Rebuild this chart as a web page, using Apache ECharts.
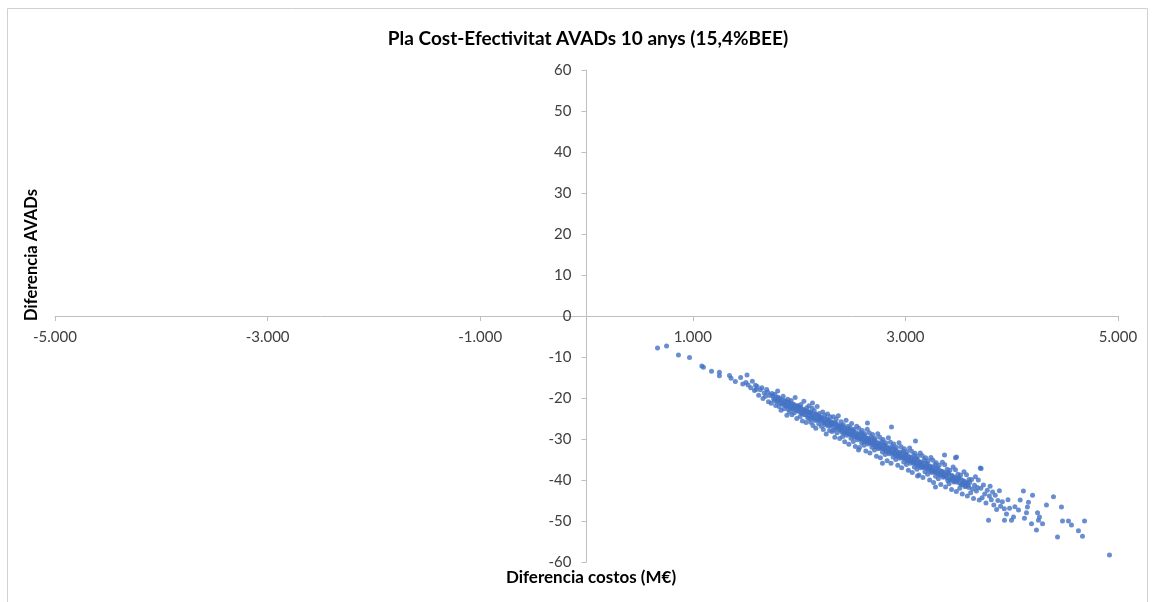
<!DOCTYPE html>
<html>
<head>
<meta charset="utf-8">
<script src="https://cdn.jsdelivr.net/npm/echarts@6/dist/echarts.min.js"></script>
<style>
html,body{margin:0;padding:0;background:#fff;}
#chart{width:1152px;height:602px;}
</style>
</head>
<body>
<div id="chart"></div>
<script>
var chartTitle = 'Pla Cost-Efectivitat AVADs 10 anys (15,4%BEE)';
var xAxisName = 'Diferencia costos (M€)';
var yAxisName = 'Diferencia AVADs';
var xTicks = [-5000, -3000, -1000, 1000, 3000, 5000];
var yTicks = [-60, -50, -40, -30, -20, -10, 0, 10, 20, 30, 40, 50, 60];

// [cost difference, AVAD difference]
var pointsStart = [
[668,-7.8],[753,-7.3],[865,-9.5],[969,-10.1],[1085,-12.2],[1100,-12.5],[1176,-13.5],[1250,-13.7],[1250,-14.6],[1345,-14.5],[1360,-15.2],[1400,-16.0],[1450,-15.0],[1470,-16.6],[1500,-16.2]
];
var pointsBand1 = [
[1510,-14.4],[1520,-16.8],[1545,-17.5],[1560,-15.9],[1580,-18.2],[1590,-16.9],[1595,-17.9],
[1605,-17.2],[1620,-19.3],[1635,-18.0],[1650,-17.5],[1660,-20.1],[1672,-18.8],[1685,-19.6],[1695,-17.9],
[1705,-18.6],[1712,-20.9],[1725,-19.4],[1738,-21.3],[1745,-18.9],[1760,-20.2],[1772,-19.1],[1780,-21.8],[1792,-20.6],[1798,-18.3],
[1803,-19.8],[1812,-22.1],[1820,-20.5],[1830,-23.0],[1841,-21.4],[1850,-19.6],[1858,-22.6],[1865,-20.9],[1877,-21.9],[1885,-24.2],[1893,-20.3],[1898,-22.8],
[1902,-21.0],[1910,-23.4],[1918,-22.0],[1925,-20.6],[1933,-24.1],[1940,-22.7],[1948,-21.5],[1955,-23.6],[1963,-19.9],[1970,-22.4],[1978,-25.0],[1985,-21.8],[1992,-23.1],[1998,-22.5]
];
var pointsBand2 = [
[2004,-22.2],[2010,-24.5],[2017,-21.6],[2024,-23.8],[2031,-25.6],[2038,-22.9],[2045,-20.8],[2052,-24.1],[2058,-23.2],[2066,-26.0],[2072,-22.4],[2080,-24.8],[2087,-23.5],[2093,-21.9],[2099,-25.1],
[2103,-23.6],[2110,-25.9],[2116,-24.2],[2123,-22.5],[2126,-21.2],[2130,-26.7],[2136,-24.9],[2143,-23.1],[2150,-25.5],[2157,-27.4],[2163,-24.0],[2170,-22.1],[2177,-25.2],[2184,-26.3],[2190,-23.8],[2197,-24.7],
[2203,-24.8],[2209,-26.9],[2215,-25.3],[2222,-23.4],[2228,-27.7],[2235,-25.9],[2241,-24.2],[2248,-26.5],[2255,-28.8],[2261,-25.1],[2268,-23.9],[2274,-26.8],[2281,-25.6],[2287,-27.9],[2294,-24.6],[2299,-26.2],
[2304,-25.9],[2310,-28.2],[2317,-26.4],[2323,-24.6],[2330,-27.8],[2336,-29.6],[2343,-26.1],[2349,-25.2],[2356,-28.5],[2362,-27.1],[2369,-24.3],[2375,-26.9],[2382,-29.9],[2388,-27.6],[2395,-25.8],[2399,-28.3],
[2404,-27.0],[2410,-29.4],[2416,-26.5],[2423,-28.6],[2429,-30.7],[2436,-27.8],[2442,-25.4],[2449,-29.1],[2455,-28.2],[2462,-26.9],[2468,-31.3],[2475,-28.7],[2481,-27.3],[2488,-29.8],[2494,-26.2],[2499,-28.9]
];
var pointsBand3 = [
[2504,-28.0],[2510,-30.6],[2516,-27.6],[2523,-29.5],[2529,-31.8],[2536,-28.8],[2542,-26.9],[2549,-30.2],[2555,-29.3],[2559,-32.7],[2562,-27.4],[2568,-32.1],[2575,-29.9],[2581,-28.4],[2588,-30.9],[2594,-27.9],[2599,-30.0],
[2604,-29.0],[2610,-31.5],[2616,-28.7],[2622,-30.6],[2628,-32.9],[2635,-29.9],[2641,-27.6],[2643,-26.1],[2647,-31.2],[2654,-30.4],[2660,-28.5],[2666,-33.4],[2673,-30.9],[2679,-29.5],[2685,-32.0],[2691,-28.9],[2697,-31.1],
[2703,-30.2],[2709,-32.7],[2715,-29.8],[2721,-31.9],[2728,-34.2],[2734,-31.0],[2740,-28.7],[2746,-32.4],[2753,-31.5],[2759,-29.6],[2765,-34.6],[2771,-32.1],[2778,-30.6],[2784,-33.2],[2784,-35.9],[2790,-30.1],[2796,-32.3],
[2803,-31.4],[2809,-33.8],[2815,-30.9],[2821,-33.0],[2828,-35.3],[2834,-32.2],[2840,-29.7],[2846,-33.6],[2853,-32.7],[2859,-30.8],[2865,-35.9],[2869,-27.1],[2871,-33.3],[2878,-31.8],[2884,-34.4],[2890,-31.2],[2896,-33.5],
[2903,-32.5],[2909,-35.0],[2915,-32.0],[2921,-34.1],[2928,-36.4],[2934,-33.4],[2940,-30.9],[2946,-34.7],[2953,-33.8],[2959,-31.9],[2965,-37.0],[2971,-34.4],[2978,-32.9],[2984,-35.6],[2990,-32.4],[2996,-34.6]
];
var pointsBand4 = [
[3003,-33.7],[3009,-36.2],[3015,-33.1],[3021,-35.3],[3028,-37.6],[3034,-34.5],[3040,-32.2],[3046,-35.9],[3053,-35.0],[3059,-33.0],[3065,-38.2],[3071,-35.6],[3078,-34.0],[3084,-36.8],[3090,-33.5],[3095,-30.5],[3096,-35.8],
[3103,-34.8],[3109,-37.4],[3114,-39.0],[3115,-34.2],[3121,-36.5],[3128,-38.8],[3134,-35.7],[3140,-33.4],[3146,-37.0],[3153,-36.2],[3159,-34.1],[3165,-39.4],[3171,-36.8],[3178,-35.1],[3184,-38.0],[3190,-34.6],[3196,-36.9],
[3203,-36.0],[3209,-38.6],[3215,-35.3],[3221,-37.6],[3228,-40.0],[3234,-36.8],[3240,-34.5],[3246,-38.2],[3253,-37.4],[3259,-35.2],[3265,-40.6],[3271,-37.9],[3278,-36.3],[3283,-41.7],[3284,-39.1],[3290,-35.8],[3296,-38.1],
[3303,-37.1],[3310,-39.7],[3318,-36.4],[3325,-38.8],[3333,-41.1],[3340,-37.9],[3348,-35.7],[3355,-39.3],[3363,-38.5],[3368,-33.9],[3370,-36.3],[3378,-41.7],[3385,-39.0],[3393,-37.4],[3399,-40.2],
[3404,-38.3],[3411,-40.9],[3419,-37.6],[3426,-39.9],[3434,-42.3],[3441,-39.0],[3449,-36.8],[3456,-40.5],[3464,-39.6],[3471,-37.5],[3471,-34.6],[3479,-42.8],[3481,-34.4],[3486,-40.1],[3494,-38.6]
];
var pointsBand5 = [
[3503,-39.5],[3511,-42.0],[3519,-38.8],[3527,-41.1],[3535,-43.4],[3543,-40.2],[3551,-38.0],[3559,-41.6],[3567,-40.8],[3575,-38.7],[3583,-43.9],[3591,-41.3],[3598,-39.9],
[3605,-40.6],[3614,-43.1],[3623,-39.9],[3632,-42.2],[3641,-44.5],[3650,-41.3],[3659,-39.2],[3668,-42.7],[3677,-41.8],[3686,-40.0],[3695,-44.9],
[3705,-37.1],[3712,-37.2],[3710,-42.0],[3722,-44.3],[3734,-41.2],[3746,-43.4],[3758,-45.6],[3770,-42.5],[3782,-49.8],[3790,-43.9],[3797,-41.5],
[3808,-44.8],[3820,-42.9],[3832,-46.1],[3845,-43.7],[3858,-47.2],[3870,-45.0],[3884,-42.6],[3895,-46.4],
[3912,-45.3],[3930,-47.0],[3932,-49.8],[3951,-48.3],[3965,-44.8],[3980,-46.9],[3998,-49.8]
];
var pointsCore = [
[1752,-19.4],[1768,-20.6],[1783,-19.9],[1797,-21.0],[1812,-20.1],[1826,-21.3],[1841,-20.4],[1856,-21.6],[1870,-20.7],[1885,-22.0],[1899,-21.1],[1914,-22.3],[1928,-21.4],[1943,-22.6],[1957,-21.8],[1972,-23.0],[1986,-22.1],
[2001,-23.3],[2015,-22.4],[2030,-23.6],[2044,-22.8],[2059,-24.0],[2073,-23.1],[2088,-24.3],[2102,-23.4],[2117,-24.7],[2131,-23.8],[2146,-25.0],[2160,-24.1],[2175,-25.3],[2189,-24.5],
[2204,-25.7],[2218,-24.8],[2233,-26.0],[2247,-25.1],[2262,-26.3],[2276,-25.5],[2291,-26.7],[2305,-25.8],[2320,-27.0],[2334,-26.1],[2349,-27.3],[2363,-26.5],[2378,-27.7],[2392,-26.8],
[2407,-28.0],[2421,-27.1],[2436,-28.4],[2450,-27.5],[2465,-28.7],[2479,-27.8],[2494,-29.0],[2508,-28.2],[2523,-29.4],[2537,-28.5],[2552,-29.7],[2566,-28.8],[2581,-30.0],[2595,-29.2],
[2610,-30.4],[2624,-29.5],[2639,-30.7],[2653,-29.8],[2668,-31.0],[2682,-30.2],[2697,-31.4],[2711,-30.5],[2726,-31.7],[2740,-30.9],[2755,-32.1],[2769,-31.2],[2784,-32.4],[2798,-31.5],
[2813,-32.7],[2827,-31.9],[2842,-33.1],[2856,-32.2],[2871,-33.4],[2885,-32.5],[2900,-33.7],[2914,-32.9],[2929,-34.1],[2943,-33.2],[2958,-34.4],[2972,-33.5],[2987,-34.7],
[3001,-33.9],[3016,-35.1],[3030,-34.2],[3045,-35.4],[3059,-34.5],[3074,-35.8],[3088,-34.9],[3103,-36.1],[3117,-35.2],[3132,-36.4],[3146,-35.6],[3161,-36.8],[3175,-35.9],[3190,-37.1],
[3204,-36.2],[3219,-37.4],[3233,-36.6],[3248,-37.8],[3262,-36.9],[3277,-38.1],[3291,-37.2],[3306,-38.4],[3320,-37.6],[3335,-38.8],[3349,-37.9],[3364,-39.1],[3378,-38.2],[3393,-39.5],
[3407,-38.6],[3422,-39.8],[3436,-38.9],[3451,-40.1],[3465,-39.3],[3480,-40.5],[3494,-39.6],[3509,-40.8],[3523,-39.9],[3538,-41.1],[3552,-40.3],[3567,-41.5],[3581,-40.6],[3596,-41.8]
];
var pointsTail = [
[4017,-49.0],[4030,-46.5],[4064,-47.3],[4080,-44.9],[4110,-42.7],[4120,-49.3],[4139,-48.0],[4148,-46.6],[4158,-45.4],
[4186,-50.7],[4196,-43.7],[4233,-52.2],[4243,-48.0],[4252,-49.8],[4261,-49.0],[4290,-50.7],[4327,-46.1],[4393,-44.1],
[4431,-53.9],[4468,-46.6],[4478,-50.0],[4534,-50.0],[4562,-51.0],[4628,-52.4],[4666,-53.7],[4685,-50.0],[4920,-58.3]
];

var allPoints = [].concat(pointsStart, pointsBand1, pointsBand2, pointsBand3, pointsBand4, pointsBand5, pointsCore, pointsTail);

var fontFam = 'Lato, "Open Sans", "Liberation Sans", sans-serif';
var chart = echarts.init(document.getElementById('chart'), null, {renderer: 'canvas'});

function fmtThousands(v) {
  var neg = v < 0;
  var s = String(Math.abs(v));
  s = s.replace(/\B(?=(\d{3})+(?!\d))/g, '.');
  return (neg ? '-' : '') + s;
}

// plot area geometry
var gLeft = 55, gRight = 34, gTop = 70, gBottom = 40;
var W = 1152, H = 602;
var xZeroPx = gLeft + (W - gLeft - gRight) * (0 - (-5000)) / 10000;
var yZeroPx = gTop + (H - gTop - gBottom) * (60 - 0) / 120;

chart.setOption({
  backgroundColor: '#ffffff',
  animation: false,
  title: {
    text: chartTitle,
    left: 583,
    top: 24,
    textAlign: 'center',
    textStyle: {fontFamily: fontFam, fontSize: 19, fontWeight: 'bold', color: '#000000'}
  },
  grid: {left: gLeft, right: gRight, top: gTop, bottom: gBottom, containLabel: false, outerBoundsMode: 'none'},
  xAxis: {
    type: 'value',
    min: -5000,
    max: 5000,
    interval: 2000,
    position: 'bottom',
    offset: -(H - gBottom - yZeroPx),
    splitLine: {show: false},
    axisLine: {onZero: false, lineStyle: {color: '#bfbfbf', width: 1}},
    axisTick: {show: true, length: 5, inside: false, lineStyle: {color: '#bfbfbf'}},
    axisLabel: {
      fontFamily: fontFam, fontSize: 15, color: '#404040', margin: 14,
      formatter: function (v) { return xTicks.indexOf(v) >= 0 ? fmtThousands(v) : ''; }
    }
  },
  yAxis: {
    type: 'value',
    min: -60,
    max: 60,
    interval: 10,
    position: 'left',
    offset: -(xZeroPx - gLeft),
    splitLine: {show: false},
    axisLine: {onZero: false, lineStyle: {color: '#bfbfbf', width: 1}},
    axisTick: {show: true, length: 5, lineStyle: {color: '#bfbfbf'}},
    axisLabel: {
      fontFamily: fontFam, fontSize: 15, color: '#404040', margin: 15,
      formatter: function (v) { return yTicks.indexOf(v) >= 0 ? String(v) : ''; }
    }
  },
  graphic: [
    {type: 'rect', silent: true, z: -1, shape: {x: 7.5, y: 8.5, width: 1140, height: 600}, style: {fill: 'none', stroke: '#d0d0d0', lineWidth: 1}},
    {type: 'text', x: 32, y: 255, rotation: Math.PI / 2,
      style: {text: yAxisName, fontFamily: fontFam, fontSize: 16.5, fontWeight: 'bold', fill: '#000000', textAlign: 'center', textVerticalAlign: 'middle'}},
    {type: 'text', x: 591, y: 578,
      style: {text: xAxisName, fontFamily: fontFam, fontSize: 17, fontWeight: 'bold', fill: '#000000', textAlign: 'center', textVerticalAlign: 'middle'}}
  ],
  series: [{
    type: 'scatter',
    data: allPoints,
    symbol: 'circle',
    symbolSize: 5,
    itemStyle: {color: '#4472C4'}
  }]
});
</script>
</body>
</html>
